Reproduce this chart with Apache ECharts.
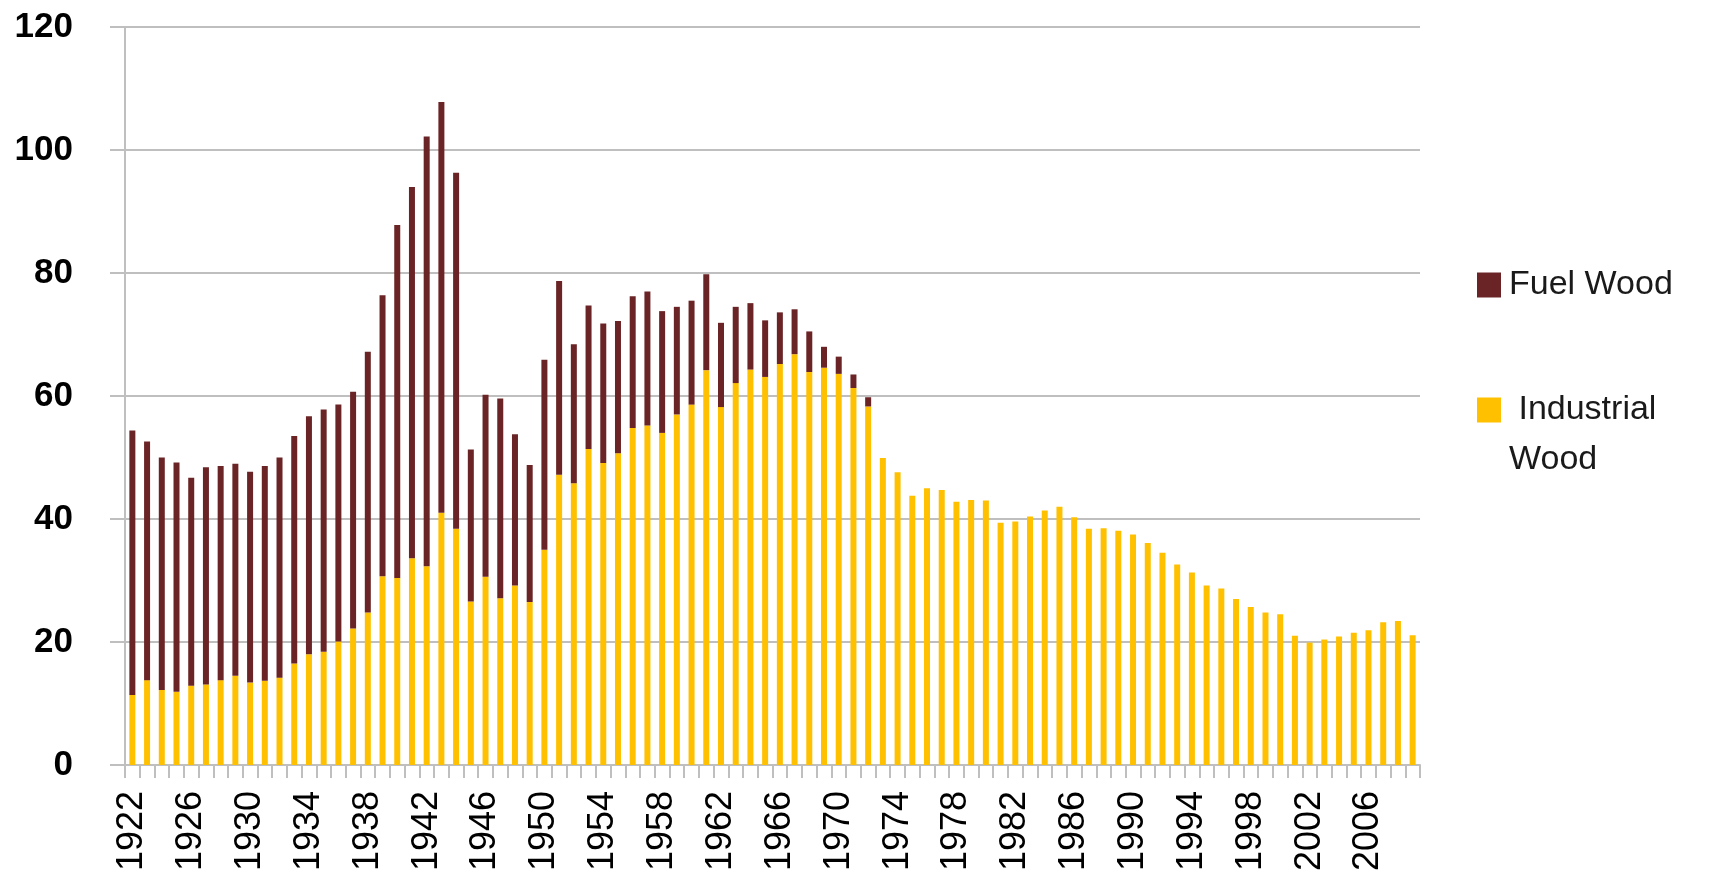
<!DOCTYPE html>
<html>
<head>
<meta charset="utf-8">
<script src="https://cdn.jsdelivr.net/npm/echarts@6/dist/echarts.min.js"></script>
<style>
  html, body { margin: 0; padding: 0; background: #fff; }
  #chart { width: 1711px; height: 880px; }
</style>
</head>
<body>
<div id="chart"></div>
<script>
// years 1922 - 2009
const years = [];
for (let y = 1922; y <= 2009; y++) years.push(String(y));

// industrial wood (bottom of stack)
const industrialWood = [
  11.4, 13.8, 12.2, 11.9, 12.9, 13.1, 13.8, 14.5, 13.4, 13.7,
  14.2, 16.5, 18.0, 18.4, 20.1, 22.2, 24.8, 30.7, 30.4, 33.6,
  32.3, 41.0, 38.4, 26.6, 30.6, 27.1, 29.2, 26.5, 35.0, 47.2,
  45.8, 51.4, 49.1, 50.7, 54.8, 55.2, 54.0, 57.0, 58.6, 64.2,
  58.2, 62.1, 64.3, 63.1, 65.2, 66.8, 63.9, 64.6, 63.6, 61.3,
  58.3, 49.9, 47.6, 43.8, 45.0, 44.7, 42.8, 43.1, 43.0, 39.4,
  39.6, 40.4, 41.4, 42.0, 40.3, 38.4, 38.5, 38.1, 37.5, 36.1,
  34.5, 32.6, 31.3, 29.2, 28.7, 27.0, 25.7, 24.8, 24.5, 21.0,
  19.9, 20.4, 20.9, 21.5, 21.9, 23.2, 23.4, 21.1
];

// totals
const totalWood = [
  54.4, 52.6, 50.0, 49.2, 46.7, 48.4, 48.6, 49.0, 47.7, 48.6,
  50.0, 53.5, 56.7, 57.8, 58.6, 60.7, 67.2, 76.4, 87.8, 94.0,
  102.2, 107.8, 96.3, 51.3, 60.2, 59.6, 53.8, 48.8, 65.9, 78.7,
  68.4, 74.7, 71.8, 72.2, 76.2, 77.0, 73.8, 74.5, 75.5, 79.8,
  71.9, 74.5, 75.1, 72.3, 73.6, 74.1, 70.5, 68.0, 66.4, 63.5,
  59.8
];

const fuelWood = years.map((y, i) =>
  i < totalWood.length ? +(totalWood[i] - industrialWood[i]).toFixed(1) : 0
);

const yTicks = { min: 0, max: 120, interval: 20 };

const gridColor = '#bfbfbf';
const fuelColor = '#6b2426';
const industrialColor = '#ffc000';

const chart = echarts.init(document.getElementById('chart'));

const option = {
  animation: false,
  textStyle: { fontFamily: 'Liberation Sans' },
  grid: { left: 125, right: 291, top: 27, bottom: 115 },
  legend: [
    {
      data: ['Fuel Wood'],
      left: 1477,
      top: 268,
      padding: 0,
      icon: 'rect',
      itemWidth: 24,
      itemHeight: 25,
      textStyle: { fontSize: 34, color: '#1a1a1a', fontFamily: 'Liberation Sans', padding: [0, 0, 0, 3] }
    },
    {
      data: ['Industrial Wood'],
      left: 1477,
      top: 393,
      padding: 0,
      icon: 'rect',
      itemWidth: 24,
      itemHeight: 25,
      formatter: function () { return '{a| Industrial}\n{b|Wood}'; },
      textStyle: {
        fontSize: 34,
        color: '#1a1a1a',
        fontFamily: 'Liberation Sans',
        padding: [0, 0, -50, 3],
        rich: {
          a: { fontSize: 34, lineHeight: 50, color: '#1a1a1a', fontFamily: 'Liberation Sans' },
          b: { fontSize: 34, lineHeight: 50, color: '#1a1a1a', fontFamily: 'Liberation Sans' }
        }
      }
    }
  ],
  xAxis: {
    type: 'category',
    data: years,
    boundaryGap: true,
    axisLine: { lineStyle: { color: gridColor, width: 2 } },
    axisTick: { show: true, length: 13, interval: 0, lineStyle: { color: gridColor, width: 2 } },
    axisLabel: {
      interval: 3,
      rotate: 90,
      margin: 26,
      fontSize: 36,
      color: '#000',
      fontFamily: 'Liberation Sans'
    }
  },
  yAxis: {
    type: 'value',
    min: yTicks.min,
    max: yTicks.max,
    interval: yTicks.interval,
    axisLine: { show: true, lineStyle: { color: gridColor, width: 2 } },
    axisTick: { show: true, length: 15, lineStyle: { color: gridColor, width: 2 } },
    splitLine: { lineStyle: { color: gridColor, width: 2 } },
    axisLabel: {
      margin: 52,
      fontSize: 35,
      fontWeight: 'bold',
      color: '#000',
      fontFamily: 'Liberation Sans'
    }
  },
  series: [
    {
      name: 'Industrial Wood',
      type: 'bar',
      stack: 'wood',
      data: industrialWood,
      barWidth: 6,
      itemStyle: { color: industrialColor }
    },
    {
      name: 'Fuel Wood',
      type: 'bar',
      stack: 'wood',
      data: fuelWood,
      barWidth: 6,
      itemStyle: { color: fuelColor }
    }
  ]
};

chart.setOption(option);
</script>
</body>
</html>
